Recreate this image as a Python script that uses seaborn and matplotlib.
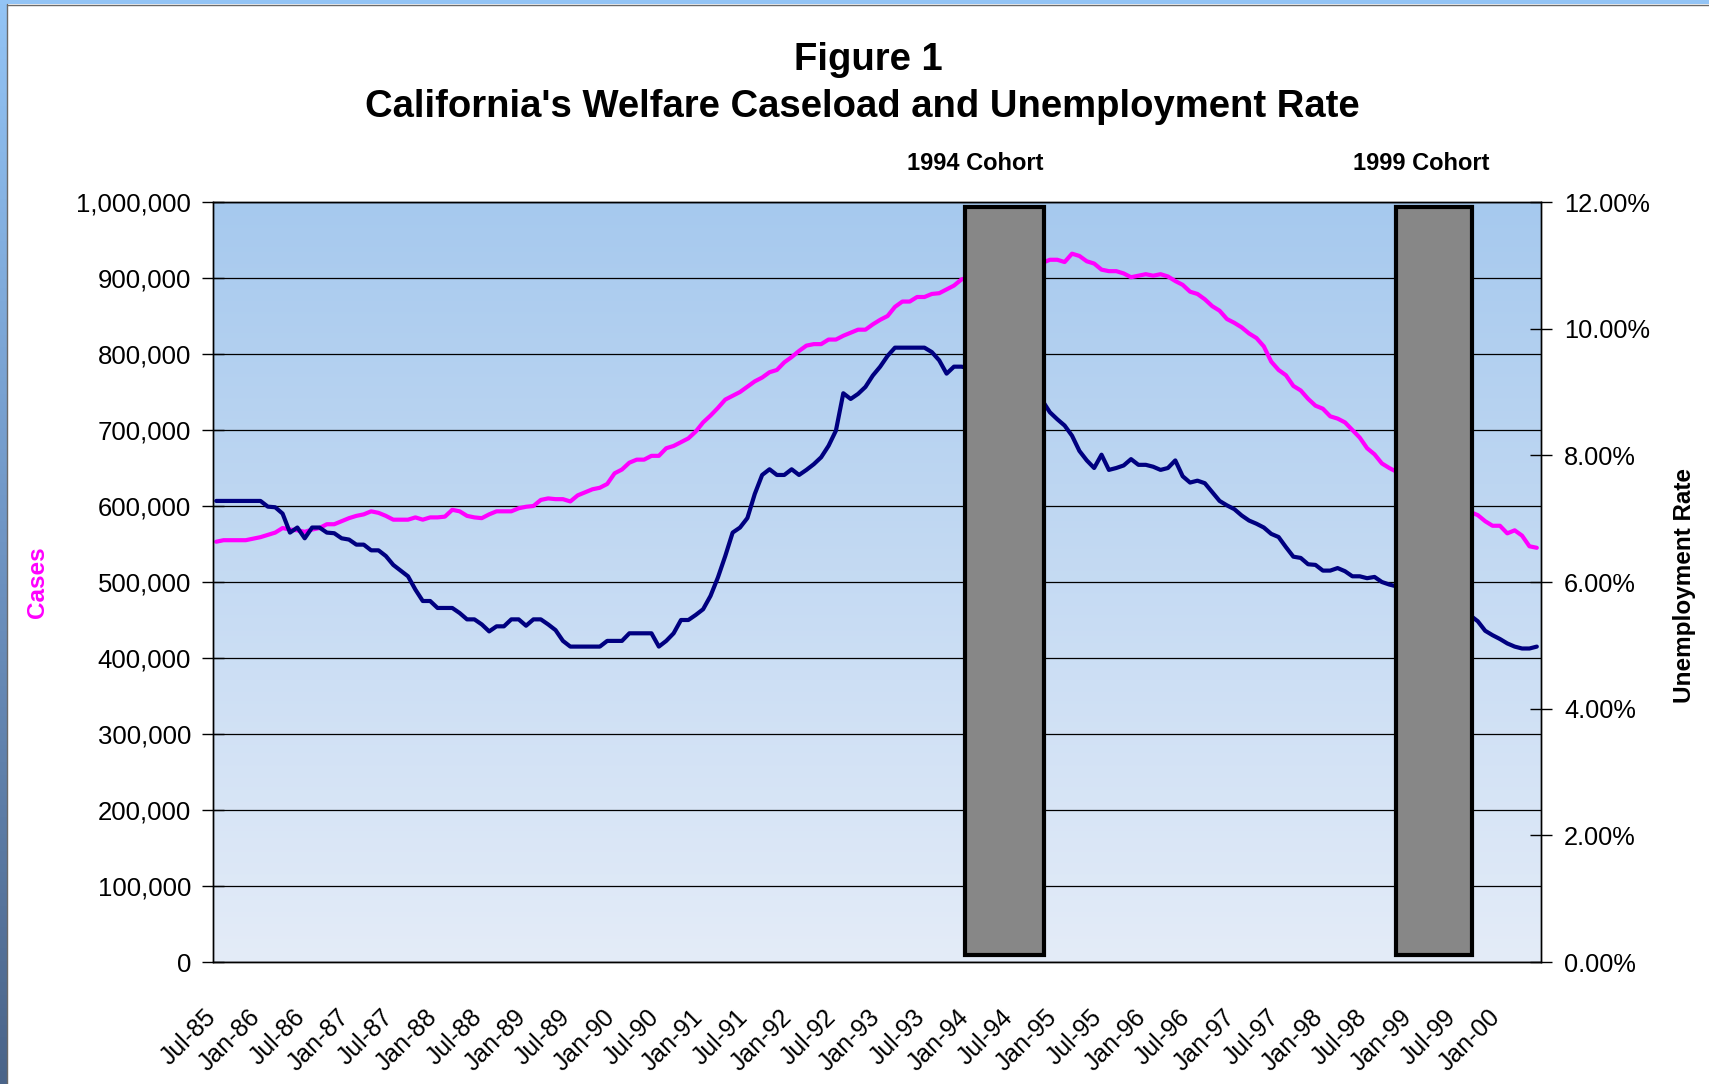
import numpy as np
import pandas as pd
import matplotlib
matplotlib.use("Agg")
import matplotlib.pyplot as plt
import matplotlib.transforms as mtransforms
from matplotlib.colors import LinearSegmentedColormap
from matplotlib.patches import Rectangle
from matplotlib.lines import Line2D
from matplotlib.ticker import FuncFormatter
import seaborn as sns

# ---------------- data ----------------
tick_labels = ["Jul-85", "Jan-86", "Jul-86", "Jan-87", "Jul-87", "Jan-88", "Jul-88", "Jan-89",
               "Jul-89", "Jan-90", "Jul-90", "Jan-91", "Jul-91", "Jan-92", "Jul-92", "Jan-93",
               "Jul-93", "Jan-94", "Jul-94", "Jan-95", "Jul-95", "Jan-96", "Jul-96", "Jan-97",
               "Jul-97", "Jan-98", "Jul-98", "Jan-99", "Jul-99", "Jan-00"]

# monthly welfare caseload, Jul-85 .. Jun-00
cases = [
    553000, 555000, 555000, 555000, 555000, 557000, 559000, 562000, 565000, 571000,
    569000, 568000, 566000, 569000, 571000, 576000, 576000, 580000, 584000, 587000,
    589000, 593000, 591000, 587000, 582000, 582000, 582000, 585000, 582000, 585000,
    585000, 586000, 595000, 593000, 587000, 585000, 584000, 589000, 593000, 593000,
    593000, 597000, 599000, 600000, 608000, 610000, 609000, 609000, 606000, 614000,
    618000, 622000, 624000, 629000, 643000, 648000, 657000, 661000, 661000, 666000,
    666000, 676000, 679000, 684000, 689000, 698000, 710000, 719000, 729000, 740000,
    745000, 750000, 757000, 764000, 769000, 776000, 779000, 789000, 796000, 804000,
    811000, 813000, 813000, 819000, 819000, 824000, 828000, 832000, 832000, 839000,
    845000, 850000, 862000, 869000, 869000, 875000, 875000, 879000, 880000, 885000,
    890000, 898000, 901000, 905000, 908000, 910000, 912000, 914000, 915000, 917000,
    918000, 919000, 920000, 924000, 924000, 921000, 932000, 929000, 922000, 919000,
    911000, 909000, 909000, 906000, 901000, 903000, 905000, 903000, 905000, 902000,
    896000, 891000, 882000, 879000, 872000, 863000, 857000, 846000, 841000, 835000,
    827000, 821000, 810000, 790000, 779000, 772000, 758000, 752000, 741000, 732000,
    728000, 718000, 715000, 710000, 700000, 690000, 676000, 668000, 656000, 650000,
    645000, 640000, 636000, 630000, 624000, 618000, 612000, 606000, 601000, 596000,
    592000, 588000, 580000, 574000, 574000, 564000, 568000, 561000, 547000, 545000,
]

# monthly unemployment rate (%), Jul-85 .. Jun-00
unemployment = [
    7.28, 7.28, 7.28, 7.28, 7.28, 7.28, 7.28, 7.19, 7.18, 7.08,
    6.78, 6.86, 6.69, 6.86, 6.86, 6.78, 6.77, 6.69, 6.67, 6.59,
    6.59, 6.50, 6.50, 6.41, 6.27, 6.18, 6.09, 5.88, 5.70, 5.70,
    5.59, 5.59, 5.59, 5.51, 5.41, 5.41, 5.33, 5.22, 5.30, 5.30,
    5.41, 5.41, 5.31, 5.41, 5.41, 5.33, 5.24, 5.07, 4.98, 4.98,
    4.98, 4.98, 4.98, 5.07, 5.07, 5.07, 5.19, 5.19, 5.19, 5.19,
    4.98, 5.07, 5.19, 5.40, 5.40, 5.48, 5.57, 5.78, 6.07, 6.41,
    6.78, 6.86, 7.01, 7.39, 7.69, 7.78, 7.69, 7.69, 7.78, 7.69,
    7.77, 7.86, 7.97, 8.15, 8.39, 8.98, 8.89, 8.97, 9.08, 9.26,
    9.40, 9.57, 9.70, 9.70, 9.70, 9.70, 9.70, 9.63, 9.50, 9.29,
    9.40, 9.40, 9.38, 9.35, 9.30, 9.25, 9.20, 9.15, 9.10, 9.05,
    9.00, 8.93, 8.86, 8.68, 8.57, 8.47, 8.31, 8.07, 7.92, 7.80,
    8.01, 7.77, 7.80, 7.84, 7.94, 7.85, 7.85, 7.82, 7.77, 7.80,
    7.92, 7.67, 7.57, 7.60, 7.56, 7.42, 7.28, 7.21, 7.15, 7.05,
    6.97, 6.92, 6.86, 6.76, 6.71, 6.55, 6.40, 6.38, 6.28, 6.27,
    6.18, 6.18, 6.22, 6.17, 6.09, 6.09, 6.06, 6.08, 6.00, 5.96,
    5.93, 5.90, 5.86, 5.82, 5.78, 5.74, 5.69, 5.63, 5.57, 5.52,
    5.47, 5.38, 5.23, 5.16, 5.10, 5.03, 4.98, 4.95, 4.95, 4.98,
]

cohort_names = ["1994 Cohort", "1999 Cohort"]
cohort_start = [101.95, 160.35]   # in months since Jul-85
cohort_end = [112.65, 170.65]
cohort_label_x = [103.4, 163.9]

# ---------------- style ----------------
sns.set_style("white")
plt.rcParams["font.family"] = ["Liberation Sans", "DejaVu Sans"]
plt.rcParams.update({
    "text.color": "black",
    "axes.labelcolor": "black",
    "xtick.color": "black",
    "ytick.color": "black",
    "axes.edgecolor": "black",
})

W, H = 1709, 1084
fig = plt.figure(figsize=(W / 100, H / 100), dpi=100)
fig.patch.set_facecolor("white")

# screenshot frame (blue strips at left and top)
grad = np.linspace(0, 1, 256).reshape(-1, 1)
strip_ax = fig.add_axes([0, 0, 7 / W, 1])
strip_cmap = LinearSegmentedColormap.from_list("strip", ["#93C4F5", "#6F95C4", "#4A6489"])
strip_ax.imshow(grad, aspect="auto", cmap=strip_cmap, extent=[0, 1, 0, 1], origin="upper")
strip_ax.axis("off")
fig.patches.append(Rectangle((0, 1 - 4 / H), 1, 4 / H, transform=fig.transFigure,
                             facecolor="#93C4F5", edgecolor="none", zorder=0))
fig.lines.append(Line2D([7 / W, 7 / W], [0, 1 - 4 / H], transform=fig.transFigure,
                        color="#6a6a6a", lw=1.0))
fig.lines.append(Line2D([7 / W, 1], [1 - 4.5 / H, 1 - 4.5 / H], transform=fig.transFigure,
                        color="#6a6a6a", lw=1.0))

# main axes
left, right = 212.5 / W, 1540.5 / W
bottom, top = (H - 962) / H, (H - 202) / H
ax = fig.add_axes([left, bottom, right - left, top - bottom])

bg_cmap = LinearSegmentedColormap.from_list("bg", ["#A6C9EE", "#E4ECF8"])
ax.imshow(grad, aspect="auto", cmap=bg_cmap, extent=[0, 1, 0, 1],
          transform=ax.transAxes, origin="upper", zorder=0)

df = pd.DataFrame({
    "pos": np.arange(len(cases)) + 0.5,
    "cases": cases,
    "rate": unemployment,
})

sns.lineplot(data=df, x="pos", y="cases", ax=ax, color="#FF00FF", linewidth=3.0, zorder=2)
ax2 = ax.twinx()
sns.lineplot(data=df, x="pos", y="rate", ax=ax2, color="#000080", linewidth=3.0, zorder=2)

for s, e in zip(cohort_start, cohort_end):
    ax2.axvspan(s, e, ymin=0.009, ymax=0.993, facecolor="#878787",
                edgecolor="black", linewidth=3, zorder=3)

blend = mtransforms.blended_transform_factory(ax.transData, ax.transAxes)
for name, x in zip(cohort_names, cohort_label_x):
    ax.text(x, 1.050, name, transform=blend, ha="center", va="center",
            fontsize=17, fontweight="bold", color="black")

# limits & ticks
ax.set_xlim(0, 180)
ax.set_ylim(0, 1_000_000)
ax2.set_ylim(0, 12)

ax.set_xticks(np.arange(0, 181, 6))
ax.set_xticklabels(tick_labels + [""], rotation=45, ha="right", va="center",
                   rotation_mode="anchor", fontsize=17.8)
offset = mtransforms.ScaledTranslation(-7 / 100, 0, fig.dpi_scale_trans)
for lab in ax.get_xticklabels():
    lab.set_transform(lab.get_transform() + offset)

ax.set_yticks(np.arange(0, 1_000_001, 100_000))
ax.yaxis.set_major_formatter(FuncFormatter(lambda v, p: f"{v:,.0f}"))
ax2.set_yticks(np.arange(0, 12.1, 2))
ax2.yaxis.set_major_formatter(FuncFormatter(lambda v, p: f"{v:.2f}%"))

ax.tick_params(axis="x", direction="inout", length=16, width=1, color="black",
               labelcolor="black", pad=29)
ax.tick_params(axis="y", direction="inout", length=16, width=1, color="black",
               labelcolor="black", pad=7.5, labelsize=18.5)
ax2.tick_params(axis="y", direction="inout", length=16, width=1, color="black",
                labelcolor="black", pad=9, labelsize=18.3)

ax.yaxis.grid(True, color="black", linewidth=0.9)
ax.xaxis.grid(False)
ax.set_axisbelow(True)

for a in (ax, ax2):
    for sp in a.spines.values():
        sp.set_color("black")
        sp.set_linewidth(1.0)

ax.set_xlabel("")
ax.set_ylabel("Cases", color="#FF00FF", fontsize=17.5, fontweight="bold")
ax.yaxis.set_label_coords(-0.123, 0.5)
ax2.set_ylabel("Unemployment Rate", color="black", fontsize=17.5, fontweight="bold")
ax2.yaxis.set_label_coords(1.100, 0.495)

fig.text(0.508, 1 - 60 / H, "Figure 1", ha="center", va="center",
         fontsize=27.5, fontweight="bold", color="black")
fig.text(0.5048, 1 - 107 / H, "California's Welfare Caseload and Unemployment Rate",
         ha="center", va="center", fontsize=27.5, fontweight="bold", color="black")

fig.savefig("out.png", dpi=100)
